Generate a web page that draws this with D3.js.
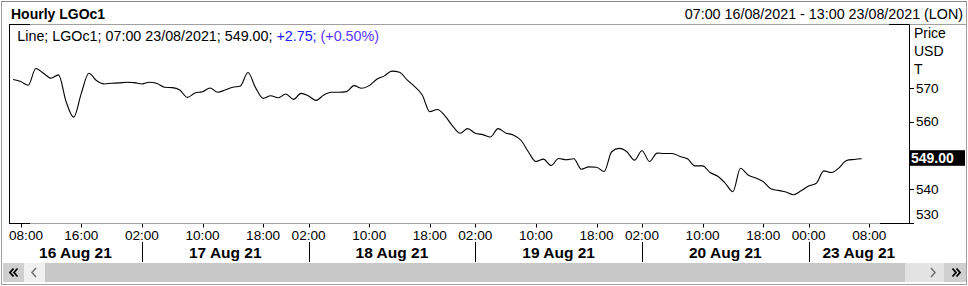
<!DOCTYPE html>
<html><head><meta charset="utf-8">
<script src="https://cdn.jsdelivr.net/npm/d3@7"></script>
<style>html,body{margin:0;padding:0;background:#fff;overflow:hidden}svg{display:block;font-family:"Liberation Sans",Arial,sans-serif}</style>
</head><body><svg id="c" width="968" height="286"></svg>
<script>
// Hourly LGOc1 closes, one per trading hour, 07:00 16/08/2021 .. 07:00 23/08/2021
const values = [
 572.6,572.0,570.9,575.9,574.5,573.0,574.0,566.0,561.4,568.5,574.5,572.3,571.3,571.5,571.6,571.8,571.7,
 571.3,571.8,571.4,570.3,570.2,569.5,567.3,568.6,569.0,570.1,568.8,569.5,570.3,570.7,574.7,570.2,567.0,567.8,567.2,568.3,566.7,568.5,
 567.7,566.4,568.0,568.8,568.8,569.0,570.8,570.0,570.8,572.7,573.7,575.1,574.8,572.5,570.5,568.0,563.0,563.7,561.8,558.8,556.6,558.0,
 556.6,556.2,555.5,558.0,556.7,556.1,554.6,551.1,548.2,548.9,547.0,549.1,548.7,549.0,545.9,546.6,546.5,545.2,551.1,552.1,551.1,548.6,
 551.4,548.2,550.7,550.6,550.6,549.7,549.0,546.9,546.9,544.9,543.8,541.7,539.2,546.2,544.2,543.3,542.2,540.1,539.6,539.1,538.3,539.5,
 540.9,541.7,545.4,544.9,546.3,548.5,548.8,549.0
];
const tickIndex  = [1,9,17,25,33,39,47,55,61,69,77,83,91,99,105,113];
const tickLabels = ["08:00","16:00","02:00","10:00","18:00","02:00","10:00","18:00","02:00","10:00","18:00","02:00","10:00","18:00","00:00","08:00"];
const dayStartIndex = [17,39,61,83,105];
const dayLabels = ["16 Aug 21","17 Aug 21","18 Aug 21","19 Aug 21","20 Aug 21","23 Aug 21"];
const priceTicks = [530,540,550,560,570];
const unitLabels = ["Price","USD","T"];
const titleText = "Hourly LGOc1";
const rangeText = "07:00 16/08/2021 - 13:00 23/08/2021 (LON)";
const legendParts = ["Line; LGOc1; 07:00 23/08/2021; 549.00; ","+2.75;"," (+0.50%)"];
const lastValue = 549.00;

const svg = d3.select("#c");
const L = 9, R = 909, T = 24.5, B = 223;
const x = d3.scaleLinear().domain([-0.54, 118.24]).range([L, R]);
const y = d3.scaleLinear().domain([530, 589]).range([222.6, T]);

// outer frame
svg.append("rect").attr("x",1.5).attr("y",1.5).attr("width",965).attr("height",283)
  .attr("fill","#fff").attr("stroke","#a0a0a0");
svg.append("line").attr("x1",1).attr("x2",967).attr("y1",1.5).attr("y2",1.5).attr("stroke","#8a8a8a");

// header
svg.append("text").attr("x",11).attr("y",18.5).attr("font-weight","bold").attr("font-size",14).text(titleText);
svg.append("text").attr("x",963).attr("y",18.5).attr("text-anchor","end").attr("font-size",14.3).text(rangeText);

// plot frame
svg.append("line").attr("x1",L).attr("x2",966).attr("y1",T).attr("y2",T).attr("stroke","#a0a0a0");
svg.append("line").attr("x1",L).attr("x2",R).attr("y1",B+0.5).attr("y2",B+0.5).attr("stroke","#a0a0a0");
const blk = [[L,30,T],[889,R,T],[L,30,B+0.5],[880,R+4,B+0.5]];
blk.forEach(s=>svg.append("line").attr("x1",s[0]).attr("x2",s[1]).attr("y1",s[2]).attr("y2",s[2]).attr("stroke","#000"));
svg.append("line").attr("x1",L+0.5).attr("x2",L+0.5).attr("y1",T).attr("y2",B+1).attr("stroke","#000");
svg.append("line").attr("x1",R+0.5).attr("x2",R+0.5).attr("y1",T).attr("y2",B+1).attr("stroke","#000");

// legend
const lg = svg.append("text").attr("x",17.3).attr("y",40.5).attr("font-size",14.3);
lg.append("tspan").attr("fill","#000").text(legendParts[0]);
lg.append("tspan").attr("fill","#2020ff").text(legendParts[1]);
lg.append("tspan").attr("fill","#5a36ff").attr("xml:space","preserve").text(legendParts[2]);

// line
const line = d3.line().x((d,i)=>x(i)).y(d=>y(d)).curve(d3.curveMonotoneX);
svg.append("path").datum(values).attr("d",line).attr("fill","none").attr("stroke","#000").attr("stroke-width",1.1);

// right axis
const yl = y(lastValue);
unitLabels.forEach((t,i)=>svg.append("text").attr("x",914).attr("y",38+i*18).attr("font-size",14).text(t));
priceTicks.forEach(v=>{
  const yy = y(v);
  svg.append("line").attr("x1",R).attr("x2",R+5).attr("y1",Math.round(yy)+0.5).attr("y2",Math.round(yy)+0.5).attr("stroke","#000");
  // labels hidden behind the last-value marker are not drawn
  if (Math.abs(yy - yl) < 14) return;
  svg.append("text").attr("x",916).attr("y",Math.min(yy+4.5,218.5)).attr("font-size",13.6).text(v);
});
svg.append("rect").attr("x",R).attr("y",yl-8.6).attr("width",56).attr("height",15.6).attr("fill","#000");
svg.append("text").attr("x",911).attr("y",yl+4.6).attr("font-size",14).attr("font-weight","bold").attr("fill","#fff").text(lastValue.toFixed(2));

// bottom axis
tickIndex.forEach((t,i)=>{
  const xx = Math.round(x(t))+0.5;
  svg.append("line").attr("x1",xx).attr("x2",xx).attr("y1",B+1).attr("y2",B+4.5).attr("stroke","#000");
  const tx = svg.append("text").attr("x",x(t)).attr("y",239.5).attr("text-anchor","middle").attr("font-size",13.6).text(tickLabels[i]);
  const w = tx.node().getComputedTextLength();
  if (x(t) - w/2 < L) tx.attr("x", L + w/2);
});
const bounds = [x.domain()[0], ...dayStartIndex, x.domain()[1]];
dayLabels.forEach((d,i)=>{
  const a = x(bounds[i]), b = x(bounds[i+1]);
  svg.append("text").attr("x",(a+b)/2).attr("y",258).attr("text-anchor","middle").attr("font-size",15.5).attr("font-weight","bold").text(d);
});
dayStartIndex.forEach(t=>{
  const xx = Math.round(x(t))+0.5;
  svg.append("line").attr("x1",xx).attr("x2",xx).attr("y1",242).attr("y2",262).attr("stroke","#000");
});

// scrollbar
svg.append("rect").attr("x",3).attr("y",263).attr("width",963).attr("height",19).attr("fill","#c8c8c8");
svg.append("rect").attr("x",3).attr("y",263).attr("width",21).attr("height",19).attr("fill","#cfcfcf");
svg.append("rect").attr("x",24).attr("y",263).attr("width",21).attr("height",19).attr("fill","#f0f0f0");
svg.append("rect").attr("x",905).attr("y",263).attr("width",39).attr("height",19).attr("fill","#e3e3e3");
svg.append("rect").attr("x",944).attr("y",263).attr("width",22).attr("height",19).attr("fill","#cfcfcf");
const arrow = (pts, col, w) => svg.append("path").attr("d", d3.line()(pts)).attr("fill","none").attr("stroke",col).attr("stroke-width",w);
arrow([[13.5,268.5],[10,272.5],[13.5,276.5]],"#000",1.8);
arrow([[17.5,268.5],[14,272.5],[17.5,276.5]],"#000",1.8);
arrow([[36,268],[32,272.5],[36,277]],"#707070",1.5);
arrow([[931,268],[935,272.5],[931,277]],"#707070",1.5);
arrow([[952.5,268.5],[956,272.5],[952.5,276.5]],"#000",1.8);
arrow([[956.5,268.5],[960,272.5],[956.5,276.5]],"#000",1.8);
</script></body></html>
